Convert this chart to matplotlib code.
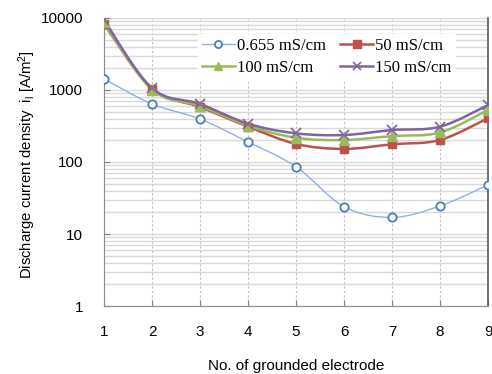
import numpy as np
import matplotlib
matplotlib.use("Agg")
import matplotlib.pyplot as plt
from matplotlib.path import Path
from matplotlib.patches import PathPatch
from matplotlib.ticker import LogLocator, NullFormatter, FixedFormatter

plt.rcParams['font.family'] = ['Liberation Sans', 'DejaVu Sans']
plt.rcParams['mathtext.fontset'] = 'custom'
plt.rcParams['mathtext.rm'] = 'Liberation Sans'
plt.rcParams['mathtext.it'] = 'Liberation Sans'

# data
electrode = [1, 2, 3, 4, 5, 6, 7, 8, 9]
s_0655 = [1420, 640, 395, 190, 86, 24, 17, 24.5, 48]
s_50 = [8300, 1040, 580, 310, 178, 152, 176, 202, 405]
s_100 = [8700, 1010, 600, 320, 217, 202, 229, 257, 527]
s_150 = [9400, 1060, 640, 340, 250, 237, 278, 309, 617]
labels = ["0.655 mS/cm", "50 mS/cm", "100 mS/cm", "150 mS/cm"]
ytick_vals = [1, 10, 100, 1000, 10000]
ytick_labels = ["1", "10", "100", "1000", "10000"]


# Excel-like smoothed line, built as bezier path in (x, log y) space
def smooth_path(x, y):
    x = np.asarray(x, float)
    ly = np.log10(np.asarray(y, float))
    pts = np.column_stack([x, ly])
    verts = [pts[0]]
    codes = [Path.MOVETO]
    n = len(pts)
    for i in range(n - 1):
        p0 = pts[max(i - 1, 0)]
        p1 = pts[i]
        p2 = pts[i + 1]
        p3 = pts[min(i + 2, n - 1)]
        c1 = p1 + (p2 - p0) / 6.0
        c2 = p2 - (p3 - p1) / 6.0
        verts += [c1, c2, p2]
        codes += [Path.CURVE4] * 3
    verts = np.array(verts)
    verts[:, 1] = 10 ** verts[:, 1]
    return Path(verts, codes)


fig = plt.figure(figsize=(4.92, 3.74), dpi=100)
ax = fig.add_axes([0.2114, 0.1818, 0.7805, 0.7701])

ax.set_yscale('log')
ax.set_ylim(1, 10000)
ax.set_xlim(1, 9)

series = [
    (s_0655, '#8db3e2', 1.0, dict(marker='o', ms=6, mfc='white', mec='#4a7ebb', mew=1.3)),
    (s_50, '#c0504d', 1.8, dict(marker='s', ms=6, mfc='#c0504d', mec='#c0504d')),
    (s_100, '#9bbb59', 1.8, dict(marker='^', ms=6.5, mfc='#9bbb59', mec='#9bbb59')),
    (s_150, '#8064a2', 1.8, dict(marker='x', ms=6.5, mec='#8064a2', mew=1.2)),
]

handles = []
for (vals, col, lw, mk), lab in zip(series, labels):
    ax.add_patch(PathPatch(smooth_path(electrode, vals), fill=False,
                           edgecolor=col, lw=lw, zorder=3))
    ax.plot(electrode, vals, ls='none', zorder=4, **mk)
    mk_leg = dict(mk, ms=mk['ms'] * 0.85)
    h, = ax.plot([], [], color=col, lw=lw, label=lab, **mk_leg)
    handles.append(h)

# grid
ax.set_yticks(ytick_vals)
ax.yaxis.set_major_formatter(FixedFormatter(ytick_labels))
ax.yaxis.set_minor_locator(LogLocator(base=10, subs=np.arange(2, 10), numticks=20))
ax.yaxis.set_minor_formatter(NullFormatter())
ax.grid(True, which='both', axis='y', color='#d9d9d9', lw=1.0, ls='-', zorder=0)
ax.grid(True, which='major', axis='x', color='#bfbfbf', lw=0.8, ls=(0, (2, 2)), zorder=0)
ax.set_xticks(electrode)

ax.tick_params(axis='both', which='major', direction='in', length=4, color='#808080',
               labelsize=11, colors='black')
ax.tick_params(axis='y', which='minor', length=0)
ax.tick_params(axis='x', pad=14)
ax.tick_params(axis='y', pad=15)

for side in ['left', 'bottom']:
    ax.spines[side].set_color('#8c8c8c')
ax.spines['right'].set_color('#595959')
ax.spines['right'].set_linewidth(1.2)
ax.spines['top'].set_visible(False)

ax.set_xlabel("No. of grounded electrode", fontsize=11, labelpad=14)
ax.set_ylabel(r"Discharge current density  $i_\mathrm{l}$ [A/m$^2$]", fontsize=10.7)
ax.yaxis.set_label_coords(-0.172, 0.493)

# legend filled row by row like the original
order = [0, 2, 1, 3]
leg = ax.legend(handles=[handles[i] for i in order], ncol=2, loc='upper right',
                bbox_to_anchor=(0.937, 0.975),
                frameon=True, fancybox=False, framealpha=1, edgecolor='white',
                prop={'family': 'Liberation Serif', 'size': 12},
                handlelength=2.0, handletextpad=0.1, columnspacing=0.85,
                labelspacing=0.35, borderpad=0.25)

fig.savefig("out.png", dpi=100)
